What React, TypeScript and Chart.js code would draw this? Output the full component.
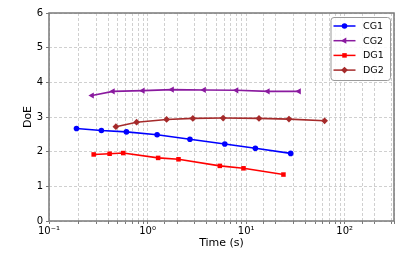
import React, { useEffect, useRef } from "react";
import { Chart, registerables } from "chart.js";

Chart.register(...registerables);

const seriesNames = ["CG1", "CG2", "DG1", "DG2"];
const cg1Time = [0.19, 0.34, 0.61, 1.25, 2.69, 6.07, 12.4, 28.3];
const cg1DoE = [2.67, 2.61, 2.57, 2.49, 2.36, 2.22, 2.1, 1.95];
const cg2Time = [0.273, 0.445, 0.895, 1.77, 3.74, 7.98, 16.6, 34.4];
const cg2DoE = [3.62, 3.74, 3.76, 3.79, 3.78, 3.77, 3.74, 3.74];
const dg1Time = [0.284, 0.412, 0.566, 1.28, 2.06, 5.41, 9.4, 23.9];
const dg1DoE = [1.92, 1.94, 1.96, 1.82, 1.78, 1.59, 1.52, 1.34];
const dg2Time = [0.477, 0.774, 1.56, 2.88, 5.84, 13.5, 27.2, 62.5];
const dg2DoE = [2.72, 2.85, 2.93, 2.96, 2.97, 2.96, 2.94, 2.89];

const xTickValues = [0.1, 1, 10, 100];
const xTickLabels = ["10\u207B\u00B9", "10\u2070", "10\u00B9", "10\u00B2"];
const xMin = 0.1;
const xMax = 316.2;
const yMin = 0;
const yMax = 6;

const colors = ["#0000ff", "#8a1a9f", "#ff0000", "#a52a2a"];
const styles = ["circle", "triangle", "rect", "rectRot"];
const radii = [2.8, 3.6, 3.2, 3.4];
const rotations = [0, -90, 0, 0];

const FONT = "DejaVu Sans";

function drawMarker(ctx: CanvasRenderingContext2D, style: string, x: number, y: number, r: number, color: string) {
  ctx.save();
  ctx.fillStyle = color;
  ctx.beginPath();
  if (style === "circle") {
    ctx.arc(x, y, r, 0, Math.PI * 2);
  } else if (style === "triangle") {
    ctx.moveTo(x - r, y);
    ctx.lineTo(x + r * 0.5, y - r * 0.87);
    ctx.lineTo(x + r * 0.5, y + r * 0.87);
    ctx.closePath();
  } else if (style === "rect") {
    const s = r * Math.SQRT1_2;
    ctx.rect(x - s, y - s, 2 * s, 2 * s);
  } else {
    ctx.moveTo(x, y - r);
    ctx.lineTo(x + r, y);
    ctx.lineTo(x, y + r);
    ctx.lineTo(x - r, y);
    ctx.closePath();
  }
  ctx.fill();
  ctx.restore();
}

const framePlugin = {
  id: "frame",
  afterDatasetsDraw(chart: any) {
    const { ctx, chartArea } = chart;
    ctx.save();
    ctx.strokeStyle = "#7a7a7a";
    ctx.lineWidth = 1.5;
    ctx.strokeRect(chartArea.left, chartArea.top, chartArea.right - chartArea.left, chartArea.bottom - chartArea.top);
    ctx.restore();
  },
};

const legendPlugin = {
  id: "mplLegend",
  afterDraw(chart: any) {
    const { ctx } = chart;
    const x0 = 331, y0 = 17.5, w = 59.5, h = 63, rad = 3;
    ctx.save();
    ctx.beginPath();
    ctx.moveTo(x0 + rad, y0);
    ctx.lineTo(x0 + w - rad, y0);
    ctx.quadraticCurveTo(x0 + w, y0, x0 + w, y0 + rad);
    ctx.lineTo(x0 + w, y0 + h - rad);
    ctx.quadraticCurveTo(x0 + w, y0 + h, x0 + w - rad, y0 + h);
    ctx.lineTo(x0 + rad, y0 + h);
    ctx.quadraticCurveTo(x0, y0 + h, x0, y0 + h - rad);
    ctx.lineTo(x0, y0 + rad);
    ctx.quadraticCurveTo(x0, y0, x0 + rad, y0);
    ctx.closePath();
    ctx.fillStyle = "rgba(255,255,255,0.85)";
    ctx.fill();
    ctx.strokeStyle = "#9a9a9a";
    ctx.lineWidth = 1;
    ctx.stroke();
    seriesNames.forEach((name, i) => {
      const y = 26 + i * 14.7;
      ctx.strokeStyle = colors[i];
      ctx.lineWidth = 1.5;
      ctx.beginPath();
      ctx.moveTo(333.5, y);
      ctx.lineTo(355.5, y);
      ctx.stroke();
      drawMarker(ctx, styles[i], 344.5, y, radii[i], colors[i]);
      ctx.fillStyle = "#000";
      ctx.font = `9.5px "${FONT}"`;
      ctx.textBaseline = "middle";
      ctx.textAlign = "left";
      ctx.fillText(name, 363, y + 0.5);
    });
    ctx.restore();
  },
};

export default function App() {
  const ref = useRef<HTMLCanvasElement | null>(null);
  useEffect(() => {
    if (!ref.current) return;
    const times = [cg1Time, cg2Time, dg1Time, dg2Time];
    const vals = [cg1DoE, cg2DoE, dg1DoE, dg2DoE];
    const chart = new Chart(ref.current, {
      type: "line",
      data: {
        datasets: seriesNames.map((name, i) => ({
          label: name,
          data: times[i].map((t, k) => ({ x: t, y: vals[i][k] })),
          borderColor: colors[i],
          backgroundColor: colors[i],
          borderWidth: 1.6,
          pointStyle: styles[i] as any,
          pointRadius: radii[i],
          pointRotation: rotations[i],
          pointBorderWidth: 0,
          pointBackgroundColor: colors[i],
          fill: false,
          tension: 0,
        })),
      },
      options: {
        animation: false,
        responsive: false,
        maintainAspectRatio: false,
        layout: { padding: { left: 0, top: 13, right: 21, bottom: 0 } },
        plugins: { legend: { display: false }, tooltip: { enabled: false } },
        scales: {
          x: {
            type: "logarithmic",
            min: xMin,
            max: xMax,
            afterFit: (s: any) => { s.height = 39; },
            title: {
              display: true,
              text: "Time (s)",
              color: "#000",
              font: { family: FONT, size: 11 },
              padding: { top: 0, bottom: 10 },
            },
            border: { display: false, dash: [3, 2] },
            grid: {
              color: "#d0d0d0",
              lineWidth: 1,
              tickLength: 3,
              tickColor: "#7a7a7a",
              tickWidth: 1,
            },
            ticks: {
              autoSkip: false,
              maxRotation: 0,
              minRotation: 0,
              padding: 1,
              color: "#000",
              font: { family: FONT, size: 10 },
              callback: (v: any) => {
                const idx = xTickValues.findIndex((t) => Math.abs(Math.log10(t) - Math.log10(Number(v))) < 1e-6);
                return idx >= 0 ? xTickLabels[idx] : "";
              },
            },
          },
          y: {
            type: "linear",
            min: yMin,
            max: yMax,
            afterFit: (s: any) => { s.width = 49; },
            title: {
              display: true,
              text: "DoE",
              color: "#000",
              font: { family: FONT, size: 11 },
              padding: { top: 22, bottom: 0 },
            },
            border: { display: false, dash: [3, 2] },
            grid: {
              color: "#d0d0d0",
              lineWidth: 1,
              tickLength: 3,
              tickColor: "#7a7a7a",
              tickWidth: 1,
            },
            ticks: {
              stepSize: 1,
              padding: 3,
              color: "#000",
              font: { family: FONT, size: 10 },
            },
          },
        },
      },
      plugins: [framePlugin, legendPlugin],
    } as any);
    return () => chart.destroy();
  }, []);
  return (
    <div style={{ position: "fixed", left: 0, top: 0, width: 415, height: 260, background: "#fff" }}>
      <canvas ref={ref} width={415} height={260} style={{ display: "block" }} />
    </div>
  );
}
